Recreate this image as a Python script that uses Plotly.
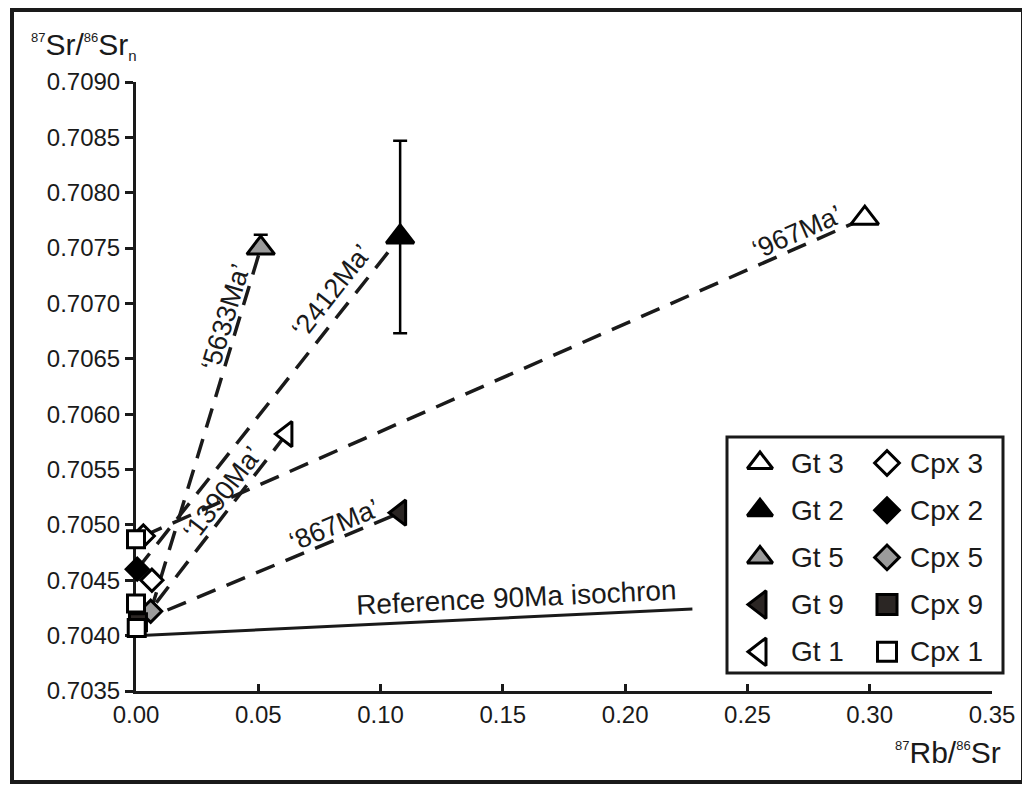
import math
import plotly.graph_objects as go

# ---------------- data ----------------
gt_names = ["Gt 3", "Gt 2", "Gt 5", "Gt 9", "Gt 1"]
gt_rbsr = [0.298, 0.108, 0.051, 0.108, 0.0615]
gt_srsr = [0.70777, 0.70760, 0.70750, 0.70511, 0.70582]
gt_err_plus = [0.0, 0.00087, 0.00012, 0.0, 0.0]
gt_err_minus = [0.0, 0.00087, 0.0, 0.0, 0.0]

cpx_names = ["Cpx 3", "Cpx 2", "Cpx 5", "Cpx 9", "Cpx 1"]
cpx_rbsr = [[0.003, 0.0065], [0.0005], [0.006], [0.0008], [0.0, 0.0, 0.0003]]
cpx_srsr = [[0.70490, 0.70450], [0.70460], [0.70422], [0.70412], [0.70487, 0.70429, 0.70407]]

# tie-lines: cpx analysis of the sample -> garnet of the sample
tie_labels = ["\u2018967Ma\u2019", "\u20182412Ma\u2019", "\u20185633Ma\u2019", "\u2018867Ma\u2019", "\u20181390Ma\u2019"]
tie_cpx_index = [0, 0, 0, 0, 2]

iso_label = "Reference 90Ma isochron"
iso_rbsr = [0.0, 0.2275]
iso_srsr = [0.70400, 0.70424]

x_range = [0.0, 0.35]
y_range = [0.7035, 0.7090]
x_title = "<sup><span style='font-size:13px'>87</span></sup>Rb/<sup><span style='font-size:13px'>86</span></sup>Sr"
y_title = ("<sup><span style='font-size:13px'>87</span></sup>Sr/<sup><span style='font-size:13px'>86</span></sup>"
           "Sr<sub><span style='font-size:15px'>n</span></sub>")

# ---------------- geometry / style (page pixels) ----------------
FONT = "Liberation Sans, Arial, Helvetica, sans-serif"
INK = "#1a1a1a"
OFF = 8                       # page body margin
W, H = 1030 - OFF, 785 - OFF
PLOT_L, PLOT_R, PLOT_T, PLOT_B = 136, 992, 82, 691
ML, MT = PLOT_L - OFF, PLOT_T - OFF
MR, MB = W - (PLOT_R - OFF), H - (PLOT_B - OFF)
PW, PH = PLOT_R - PLOT_L, PLOT_B - PLOT_T
px_per_x = PW / (x_range[1] - x_range[0])
px_per_y = PH / (y_range[1] - y_range[0])


def px2paper_x(px):
    return (px - PLOT_L) / PW


def px2paper_y(py):
    return (PLOT_B - py) / PH


gt_symbols = ["triangle-up", "triangle-up", "triangle-up", "triangle-left", "triangle-left"]
gt_fill = ["white", "black", "#9b9b9b", "#2b2624", "white"]
gt_size = [24, 24, 24, 22, 22]
cpx_symbols = ["diamond", "diamond", "diamond", "square", "square"]
cpx_fill = ["white", "black", "#9b9b9b", "#2b2624", "white"]
cpx_size = [17, 17, 17, 17, 17]

label_t = [0.915, 0.80, 0.80, 0.77, 0.65]
label_off = [14, 20, 14, 14, 14]
iso_t, iso_off = 0.685, 20

# legend (drawn by hand so symbols keep their real size)
LEG_BOX = (727, 437, 1003, 673)
LEG_ROW0, LEG_STEP = 463, 47.2
LEG_GT_SYM_X, LEG_GT_TXT_X = 760, 789
LEG_CPX_SYM_X, LEG_CPX_TXT_X = 887, 908
leg_gt_size = [22, 22, 22, 24, 24]
leg_cpx_size = [19, 19, 19, 20, 19]

fig = go.Figure()
annotations = []

# tie lines (under the markers)
for i, lab in enumerate(tie_labels):
    j = tie_cpx_index[i]
    x0, y0 = cpx_rbsr[i][j], cpx_srsr[i][j]
    x1, y1 = gt_rbsr[i], gt_srsr[i]
    fig.add_trace(go.Scatter(
        x=[x0, x1], y=[y0, y1], mode="lines", showlegend=False, hoverinfo="skip",
        line=dict(color=INK, width=3.5, dash="20px,12px"), cliponaxis=False))
    th = math.atan2((y1 - y0) * px_per_y, (x1 - x0) * px_per_x)
    t = label_t[i]
    xm = x0 + t * (x1 - x0) - math.sin(th) * label_off[i] / px_per_x
    ym = y0 + t * (y1 - y0) + math.cos(th) * label_off[i] / px_per_y
    annotations.append(dict(x=xm, y=ym, xref="x", yref="y", text=lab, showarrow=False,
                            textangle=-math.degrees(th), xanchor="center", yanchor="middle",
                            font=dict(family=FONT, size=27, color=INK)))

# reference isochron
fig.add_trace(go.Scatter(x=iso_rbsr, y=iso_srsr, mode="lines", showlegend=False,
                         hoverinfo="skip", line=dict(color=INK, width=3), cliponaxis=False))
th = math.atan2((iso_srsr[1] - iso_srsr[0]) * px_per_y, (iso_rbsr[1] - iso_rbsr[0]) * px_per_x)
annotations.append(dict(
    x=iso_rbsr[0] + iso_t * (iso_rbsr[1] - iso_rbsr[0]) - math.sin(th) * iso_off / px_per_x,
    y=iso_srsr[0] + iso_t * (iso_srsr[1] - iso_srsr[0]) + math.cos(th) * iso_off / px_per_y,
    xref="x", yref="y", text=iso_label, showarrow=False, textangle=-math.degrees(th),
    xanchor="center", yanchor="middle", font=dict(family=FONT, size=28, color=INK)))

# garnets
for i, name in enumerate(gt_names):
    has_err = gt_err_plus[i] > 0 or gt_err_minus[i] > 0
    fig.add_trace(go.Scatter(
        x=[gt_rbsr[i]], y=[gt_srsr[i]], mode="markers", name=name, showlegend=False,
        marker=dict(symbol=gt_symbols[i], size=gt_size[i], color=gt_fill[i],
                    line=dict(color="black", width=3)),
        error_y=dict(type="data", symmetric=False, array=[gt_err_plus[i]],
                     arrayminus=[gt_err_minus[i]], visible=has_err, color="black",
                     thickness=2.5, width=7),
        cliponaxis=False))

# clinopyroxenes
for i, name in enumerate(cpx_names):
    fig.add_trace(go.Scatter(
        x=cpx_rbsr[i], y=cpx_srsr[i], mode="markers", name=name, showlegend=False,
        marker=dict(symbol=cpx_symbols[i], size=cpx_size[i], color=cpx_fill[i],
                    line=dict(color="black", width=3)),
        cliponaxis=False))

# legend on an overlay axis measured in page pixels
rows = [LEG_ROW0 + k * LEG_STEP for k in range(len(gt_names))]
for i, name in enumerate(gt_names):
    fig.add_trace(go.Scatter(
        x=[LEG_GT_SYM_X], y=[rows[i]], xaxis="x2", yaxis="y2", mode="markers",
        name=name, showlegend=False, hoverinfo="skip", cliponaxis=False,
        marker=dict(symbol=gt_symbols[i], size=leg_gt_size[i], color=gt_fill[i],
                    line=dict(color="black", width=3))))
    annotations.append(dict(x=LEG_GT_TXT_X, y=rows[i], xref="x2", yref="y2", text=name,
                            showarrow=False, xanchor="left", yanchor="middle",
                            font=dict(family=FONT, size=28, color=INK)))
for i, name in enumerate(cpx_names):
    fig.add_trace(go.Scatter(
        x=[LEG_CPX_SYM_X], y=[rows[i]], xaxis="x2", yaxis="y2", mode="markers",
        name=name, showlegend=False, hoverinfo="skip", cliponaxis=False,
        marker=dict(symbol=cpx_symbols[i], size=leg_cpx_size[i], color=cpx_fill[i],
                    line=dict(color="black", width=3))))
    annotations.append(dict(x=LEG_CPX_TXT_X, y=rows[i], xref="x2", yref="y2", text=name,
                            showarrow=False, xanchor="left", yanchor="middle",
                            font=dict(family=FONT, size=28, color=INK)))

# axis titles
annotations.append(dict(x=px2paper_x(29), y=px2paper_y(46), xref="paper", yref="paper",
                        text=y_title, showarrow=False, xanchor="left", yanchor="middle",
                        font=dict(family=FONT, size=30, color=INK)))
annotations.append(dict(x=px2paper_x(1003), y=px2paper_y(752), xref="paper", yref="paper",
                        text=x_title, showarrow=False, xanchor="right", yanchor="middle",
                        font=dict(family=FONT, size=30, color=INK)))

shapes = [
    # outer frame of the figure
    dict(type="rect", xref="paper", yref="paper",
         x0=px2paper_x(12), x1=px2paper_x(1023), y0=px2paper_y(782), y1=px2paper_y(10),
         line=dict(color=INK, width=4), layer="above"),
    # legend box
    dict(type="rect", xref="paper", yref="paper",
         x0=px2paper_x(LEG_BOX[0]), x1=px2paper_x(LEG_BOX[2]),
         y0=px2paper_y(LEG_BOX[3]), y1=px2paper_y(LEG_BOX[1]),
         line=dict(color=INK, width=3), layer="above"),
]

fig.update_layout(
    width=W, height=H,
    margin=dict(l=ML, r=MR, t=MT, b=MB, pad=0),
    paper_bgcolor="white", plot_bgcolor="white",
    font=dict(family=FONT, color=INK),
    showlegend=False,
    annotations=annotations,
    shapes=shapes,
    xaxis=dict(range=x_range, dtick=0.05, tick0=0, tickformat=".2f", ticks="inside",
               ticklen=7, tickwidth=3, tickcolor=INK, showline=True, linewidth=3,
               linecolor=INK, showgrid=False, zeroline=False, layer="below traces",
               tickfont=dict(family=FONT, size=24, color=INK)),
    yaxis=dict(range=y_range, dtick=0.0005, tick0=0.7035, tickformat=".4f", ticks="outside",
               ticklen=8, tickwidth=3, tickcolor=INK, showline=True, linewidth=3,
               linecolor=INK, showgrid=False, zeroline=False, layer="below traces",
               tickfont=dict(family=FONT, size=24, color=INK)),
    xaxis2=dict(overlaying="x", anchor="y2", range=[PLOT_L, PLOT_R], visible=False,
                fixedrange=True),
    yaxis2=dict(overlaying="y", anchor="x2", range=[PLOT_B, PLOT_T], visible=False,
                fixedrange=True),
)

fig.write_html("out.html")
